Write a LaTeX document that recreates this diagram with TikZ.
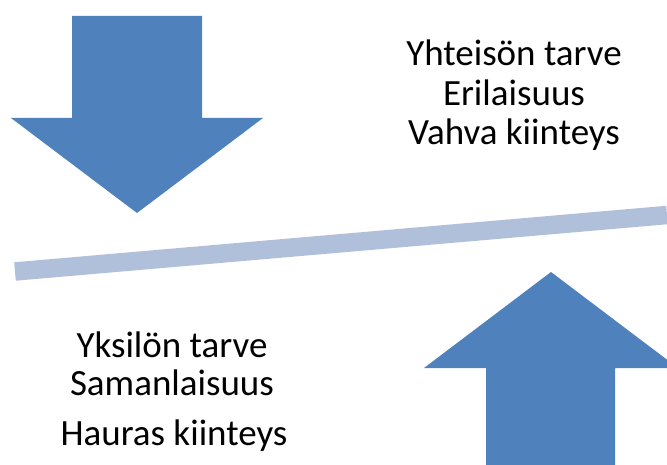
\documentclass[tikz,border=0pt]{standalone}
\usepackage{fontspec}
\setmainfont{Carlito}
\definecolor{arrowblue}{HTML}{4F81BD}
\definecolor{barblue}{HTML}{B0C0DB}
\begin{document}
\begin{tikzpicture}[x=1pt,y=-1pt,
  bigarrow/.style={fill=arrowblue,draw=none},
  lbl/.style={anchor=base,inner sep=0pt,font=\fontsize{37}{40}\selectfont}]
\useasboundingbox (0,0) rectangle (667,465);
% down arrow
\fill[bigarrow] (72,16) -- (202,16) -- (202,118) -- (263,118) -- (137,213) -- (11,118) -- (72,118) -- cycle;
% up arrow
\fill[bigarrow] (486,465) -- (486,368) -- (424,368) -- (551,272) -- (678,368) -- (615,368) -- (615,465) -- cycle;
% lever bar
\coordinate (barL) at (15,271.5);
\coordinate (barR) at (667,215);
\draw[barblue,line width=18.5pt] (barL) -- (barR);
% texts
\node[lbl] (t1) at (514,66) {Yhteisön tarve};
\node[lbl] (t2) at (514,106) {Erilaisuus};
\node[lbl] (t3) at (514,145) {Vahva kiinteys};
\node[lbl] (b1) at (172,357) {Yksilön tarve};
\node[lbl] (b2) at (172,395) {Samanlaisuus};
\node[lbl] (b3) at (174,445) {Hauras kiinteys};
\end{tikzpicture}
\end{document}
